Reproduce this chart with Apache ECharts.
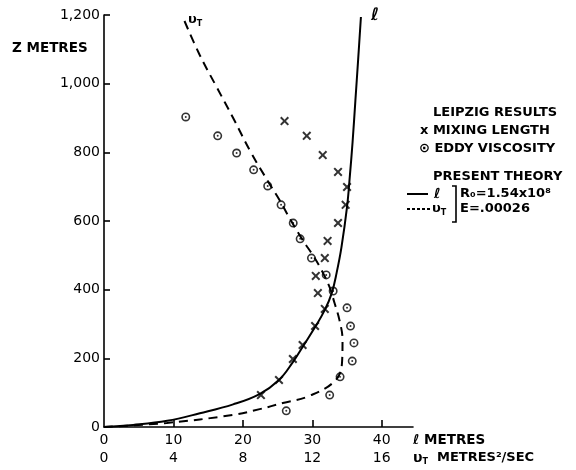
<!DOCTYPE html>
<html>
<head>
<meta charset="utf-8">
<script src="https://cdn.jsdelivr.net/npm/echarts@6/dist/echarts.min.js"></script>
<style>html,body{margin:0;padding:0;background:#fff}#main{width:576px;height:470px}</style>
</head>
<body>
<div id="main"></div>
<script>
// Leipzig results - mixing length (crosses)
var mixZ = [93, 137, 198, 239, 294, 344, 390, 440, 492, 542, 594, 647, 699, 743, 792, 848, 891];
var mixL = [22.6, 25.2, 27.2, 28.6, 30.4, 31.8, 30.8, 30.5, 31.8, 32.2, 33.7, 34.8, 35.0, 33.7, 31.5, 29.2, 26.0];
// Leipzig results - eddy viscosity (circles)
var eddyZ = [47, 93, 146, 192, 245, 294, 347, 396, 443, 492, 548, 594, 647, 702, 749, 798, 848, 903];
var eddyV = [10.5, 13.0, 13.6, 14.3, 14.4, 14.2, 14.0, 13.2, 12.8, 11.95, 11.3, 10.9, 10.2, 9.43, 8.62, 7.64, 6.55, 4.71];
// present theory, l curve
var lineZ = [0, 6, 18, 40, 66, 96, 137, 189, 233, 291, 341, 390, 449, 524, 641, 730, 830, 950, 1070, 1194];
var lineL = [0, 4.2, 9.1, 13.8, 18.6, 22.4, 25.2, 27.2, 28.6, 30.4, 31.8, 32.8, 33.5, 34.2, 35.0, 35.4, 35.8, 36.2, 36.6, 37.0];
// present theory, vT curve
var dashZ = [0, 12, 35, 52, 70, 90, 137, 195, 253, 312, 361, 408, 457, 495, 545, 603, 661, 711, 801, 903, 990, 1085, 1194];
var dashV = [0, 3.62, 7.41, 8.97, 10.3, 11.8, 13.35, 13.72, 13.74, 13.56, 13.28, 12.99, 12.53, 12.1, 11.44, 10.75, 10.11, 9.5, 8.45, 7.41, 6.49, 5.5, 4.54];
// tick labels
var yTicks = [0, 200, 400, 600, 800, 1000, 1200];
var xTicksL = [0, 10, 20, 30, 40];
var xTicksV = [0, 4, 8, 12, 16];

var font = 'DejaVu Sans';
var crossPath = 'path://M0,1.6 L1.6,0 L5,3.4 L8.4,0 L10,1.6 L6.6,5 L10,8.4 L8.4,10 L5,6.6 L1.6,10 L0,8.4 L3.4,5 Z';
var ringPath = 'path://M0,5 A5,5 0 1,1 10,5 A5,5 0 1,1 0,5 Z M1.8,5 A3.2,3.2 0 1,0 8.2,5 A3.2,3.2 0 1,0 1.8,5 Z M3.9,5 A1.1,1.1 0 1,1 6.1,5 A1.1,1.1 0 1,1 3.9,5 Z';

function pairs(xs, ys) {
	var out = [];
	for (var i = 0; i < xs.length; i++) out.push([xs[i], ys[i]]);
	return out;
}

var chart = echarts.init(document.getElementById('main'));
var txt = function(x, y, s, extra) {
	var st = {text: s, font: 'bold 13px "' + font + '"', fill: '#000', textVerticalAlign: 'middle'};
	for (var k in extra) st[k] = extra[k];
	return {type: 'text', x: x, y: y, style: st, z: 10};
};
var sub = function(size) {
	return {a: {fontSize: size, fontFamily: font, fontWeight: 'bold'}, b: {fontSize: 8, fontFamily: font, fontWeight: 'bold', padding: [7, 0, 0, 0]}, c: {fontSize: 13, fontFamily: font, fontWeight: 'bold'}};
};

var option = {
	animation: false,
	backgroundColor: '#fff',
	grid: {left: 104, right: 163, top: 15, bottom: 43},
	xAxis: [
		{
			type: 'value', position: 'bottom', min: 0, max: 44.5,
			axisLine: {lineStyle: {color: '#000', width: 1.6}},
			axisTick: {inside: true, length: 7, lineStyle: {color: '#000', width: 1.6}, customValues: xTicksL.slice(1)},
			axisLabel: {customValues: xTicksL, color: '#000', fontFamily: font, fontSize: 14, margin: 6},
			splitLine: {show: false}
		},
		{
			type: 'value', position: 'bottom', offset: 18, min: 0, max: 17.8,
			axisLine: {show: false}, axisTick: {show: false},
			axisLabel: {customValues: xTicksV, color: '#000', fontFamily: font, fontSize: 14, margin: 6},
			splitLine: {show: false}
		}
	],
	yAxis: {
		type: 'value', min: 0, max: 1200,
		axisLine: {show: true, lineStyle: {color: '#000', width: 1.6}},
		axisTick: {inside: true, length: 6, lineStyle: {color: '#000', width: 1.6}, customValues: yTicks.slice(1)},
		axisLabel: {customValues: yTicks, color: '#000', fontFamily: font, fontSize: 14, margin: 4,
			formatter: function(v) { return v.toLocaleString('en-US'); }},
		splitLine: {show: false}
	},
	series: [
		{
			name: 'l', type: 'line', xAxisIndex: 0, smooth: 0.4, showSymbol: false,
			lineStyle: {color: '#000', width: 2},
			data: pairs(lineL, lineZ), z: 2
		},
		{
			name: 'vT', type: 'line', xAxisIndex: 1, smooth: 0.4, showSymbol: false,
			lineStyle: {color: '#000', width: 2, type: [9, 6]},
			data: pairs(dashV, dashZ), z: 2
		},
		{
			name: 'MIXING LENGTH', type: 'scatter', xAxisIndex: 0,
			symbol: crossPath, symbolSize: 9,
			itemStyle: {color: '#000'},
			data: pairs(mixL, mixZ), z: 3
		},
		{
			name: 'EDDY VISCOSITY', type: 'scatter', xAxisIndex: 1,
			symbol: ringPath, symbolSize: 9,
			itemStyle: {color: '#000'},
			data: pairs(eddyV, eddyZ), z: 3
		}
	],
	graphic: [
		txt(12, 48, 'Z METRES', {font: 'bold 13.5px "' + font + '"'}),
		txt(371, 16, 'ℓ', {font: 'italic bold 17px "' + font + '"'}),
		txt(188, 20, '{a|υ}{b|T}', {rich: sub(13)}),
		txt(413, 440, 'ℓ METRES', {font: 'bold 13.5px "' + font + '"'}),
		txt(413, 458, '{a|υ}{b|T}{c|  METRES²/SEC}', {rich: sub(14)}),
		txt(433, 113, 'LEIPZIG RESULTS'),
		txt(420, 131, 'x MIXING LENGTH'),
		txt(419, 149, '⊙ EDDY VISCOSITY'),
		txt(433, 177, 'PRESENT THEORY'),
		{type: 'line', shape: {x1: 407, y1: 194, x2: 428, y2: 194}, style: {stroke: '#000', lineWidth: 2}},
		txt(434, 194, 'ℓ', {font: 'italic bold 14px "' + font + '"'}),
		{type: 'line', shape: {x1: 407, y1: 209, x2: 430, y2: 209}, style: {stroke: '#000', lineWidth: 2, lineDash: [3, 2]}},
		txt(432, 209, '{a|υ}{b|T}', {rich: sub(13)}),
		{type: 'polyline', shape: {points: [[452, 186], [456, 186], [456, 222], [452, 222]]}, style: {stroke: '#000', lineWidth: 1.6, fill: null}},
		txt(460, 194, 'R₀=1.54x10⁸'),
		txt(460, 209, 'E=.00026')
	]
};
chart.setOption(option);
</script>
</body>
</html>
